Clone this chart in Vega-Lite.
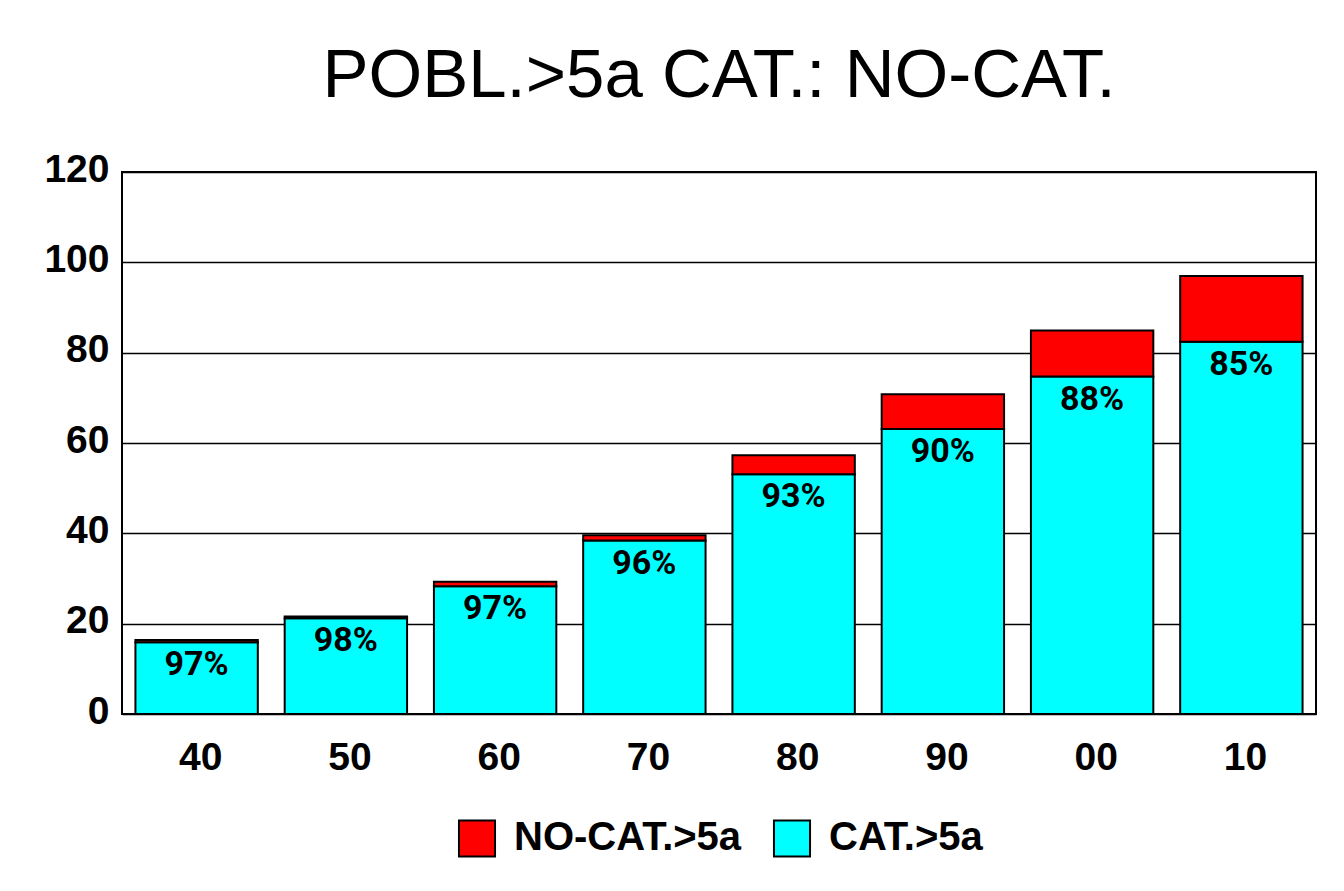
{
  "$schema": "https://vega.github.io/schema/vega-lite/v6.json",
  "autosize": {"type": "none"},
  "padding": {"left": 122, "top": 172, "right": 28, "bottom": 177},
  "width": 1194,
  "height": 542,
  "background": "white",
  "title": {
    "text": "POBL.>5a CAT.: NO-CAT.",
    "font": "Liberation Sans",
    "fontSize": 69,
    "fontWeight": "normal",
    "color": "black",
    "anchor": "middle",
    "baseline": "alphabetic",
    "offset": -16
  },
  "config": {
    "view": {"stroke": "black", "strokeWidth": 2},
    "axis": {
      "labelFont": "Liberation Sans",
      "labelFontWeight": "bold",
      "labelFontSize": 39,
      "labelColor": "black",
      "ticks": false,
      "domain": false,
      "title": null
    }
  },
  "data": {
    "values": [
      {"decada": "40", "serie": "CAT.>5a", "valor": 15.9, "pct": "97%"},
      {"decada": "40", "serie": "NO-CAT.>5a", "valor": 0.5},
      {"decada": "50", "serie": "CAT.>5a", "valor": 21.2, "pct": "98%"},
      {"decada": "50", "serie": "NO-CAT.>5a", "valor": 0.4},
      {"decada": "60", "serie": "CAT.>5a", "valor": 28.3, "pct": "97%"},
      {"decada": "60", "serie": "NO-CAT.>5a", "valor": 1.0},
      {"decada": "70", "serie": "CAT.>5a", "valor": 38.4, "pct": "96%"},
      {"decada": "70", "serie": "NO-CAT.>5a", "valor": 1.2},
      {"decada": "80", "serie": "CAT.>5a", "valor": 53.1, "pct": "93%"},
      {"decada": "80", "serie": "NO-CAT.>5a", "valor": 4.2},
      {"decada": "90", "serie": "CAT.>5a", "valor": 63.1, "pct": "90%"},
      {"decada": "90", "serie": "NO-CAT.>5a", "valor": 7.7},
      {"decada": "00", "serie": "CAT.>5a", "valor": 74.7, "pct": "88%"},
      {"decada": "00", "serie": "NO-CAT.>5a", "valor": 10.2},
      {"decada": "10", "serie": "CAT.>5a", "valor": 82.4, "pct": "85%"},
      {"decada": "10", "serie": "NO-CAT.>5a", "valor": 14.6}
    ]
  },
  "encoding": {
    "x": {
      "field": "decada",
      "type": "nominal",
      "sort": ["40", "50", "60", "70", "80", "90", "00", "10"],
      "scale": {"paddingInner": 0.18, "paddingOuter": 0.09},
      "axis": {"labelAngle": 0, "labelPadding": 24, "labelOffset": 4, "grid": false}
    }
  },
  "layer": [
    {
      "mark": {"type": "bar", "stroke": "black", "strokeWidth": 2},
      "encoding": {
        "y": {
          "field": "valor",
          "type": "quantitative",
          "stack": "zero",
          "scale": {"domain": [0, 120]},
          "axis": {
            "values": [0, 20, 40, 60, 80, 100, 120],
            "grid": true,
            "gridColor": "black",
            "gridWidth": 1.5,
            "gridOpacity": 1,
            "labelPadding": 13,
            "labelOffset": -3
          }
        },
        "color": {
          "field": "serie",
          "type": "nominal",
          "scale": {"domain": ["NO-CAT.>5a", "CAT.>5a"], "range": ["#ff0000", "#00ffff"]},
          "legend": {
            "title": null,
            "orient": "none",
            "direction": "horizontal",
            "legendX": 335,
            "legendY": 646,
            "symbolType": "square",
            "symbolSize": 1300,
            "symbolStrokeColor": "black",
            "symbolStrokeWidth": 2,
            "symbolOpacity": 1,
            "labelFont": "Liberation Sans",
            "labelFontWeight": "bold",
            "labelFontSize": 40,
            "labelColor": "black",
            "labelOffset": 17,
            "columnPadding": 27,
            "labelLimit": 400
          }
        },
        "order": {"field": "serie", "sort": "ascending"}
      }
    },
    {
      "transform": [{"filter": "datum.serie === 'CAT.>5a'"}],
      "mark": {
        "type": "text",
        "font": "Roboto",
        "fontWeight": "bold",
        "fontSize": 34,
        "color": "black",
        "baseline": "middle",
        "align": "center",
        "dy": 23
      },
      "encoding": {
        "y": {"field": "valor", "type": "quantitative"},
        "text": {"field": "pct"}
      }
    }
  ]
}
